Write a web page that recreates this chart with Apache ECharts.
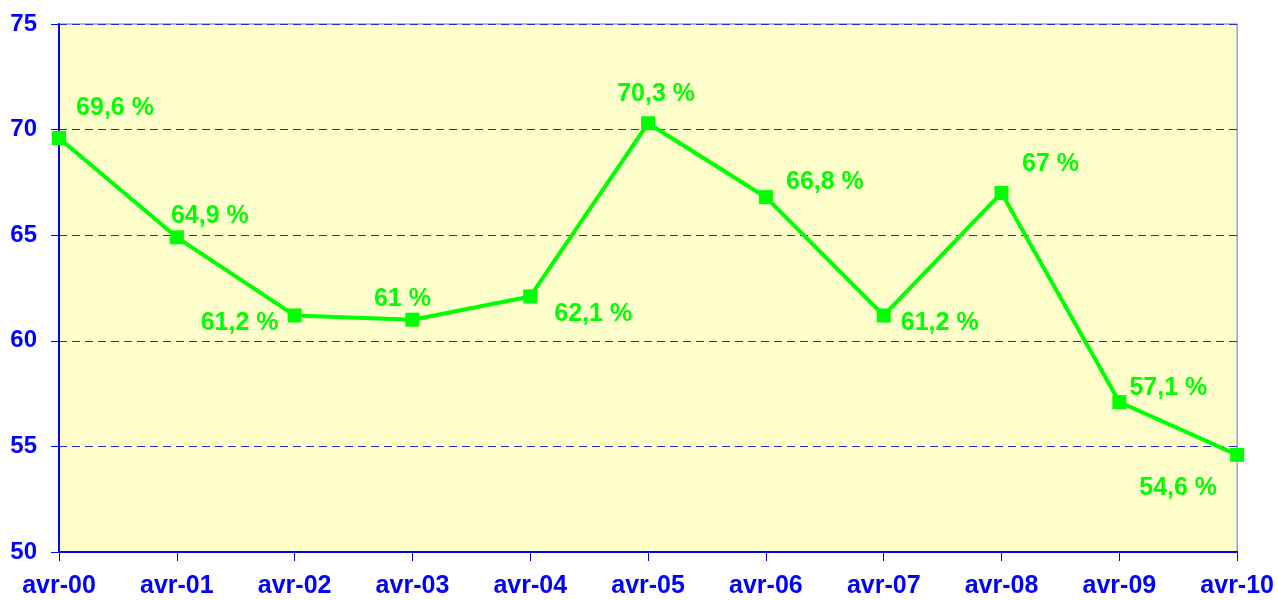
<!DOCTYPE html>
<html>
<head>
<meta charset="utf-8">
<script src="https://cdn.jsdelivr.net/npm/echarts@6/dist/echarts.min.js"></script>
<style>
  html, body { margin: 0; padding: 0; background: #fff; }
  #chart { width: 1277px; height: 600px; }
</style>
</head>
<body>
<div id="chart"></div>
<script>
const categories = ["avr-00", "avr-01", "avr-02", "avr-03", "avr-04", "avr-05", "avr-06", "avr-07", "avr-08", "avr-09", "avr-10"];
const values = [69.6, 64.9, 61.2, 61.0, 62.1, 70.3, 66.8, 61.2, 67.0, 57.1, 54.6];
const labelTexts = ["69,6 %", "64,9 %", "61,2 %", "61 %", "62,1 %", "70,3 %", "66,8 %", "61,2 %", "67 %", "57,1 %", "54,6 %"];
// where each value label sits relative to its point
const labelOffsets = [[56, -30], [33, -21], [-55, 8], [-10, -21], [63, 18], [8, -29], [59, -15], [56, 8], [49, -29], [49, -14], [-59, 33]];

const blue = "#0000ff";
const green = "#00ff00";

const chart = echarts.init(document.getElementById("chart"));

chart.setOption({
  animation: false,
  grid: {
    left: 59,
    right: 39,
    top: 24,
    bottom: 48,
    show: true,
    backgroundColor: "#ffffcc",
    borderColor: "#6666ff",
    borderWidth: 1
  },
  xAxis: {
    type: "category",
    data: categories,
    boundaryGap: false,
    axisLine: { lineStyle: { color: blue, width: 2 } },
    axisTick: { show: true, length: 9, lineStyle: { color: blue, width: 1 } },
    axisLabel: {
      color: blue,
      fontWeight: "bold",
      fontSize: 25,
      fontFamily: "Liberation Sans, Arial",
      margin: 22,
      interval: 0
    },
    splitLine: { show: false }
  },
  yAxis: {
    type: "value",
    min: 50,
    max: 75,
    interval: 5,
    axisLine: { show: true, lineStyle: { color: blue, width: 2 } },
    axisTick: { show: true, length: 8, lineStyle: { color: blue, width: 1 } },
    axisLabel: {
      color: blue,
      fontWeight: "bold",
      fontSize: 24,
      fontFamily: "Liberation Sans, Arial",
      margin: 22
    },
    splitLine: {
      show: true,
      lineStyle: { color: "#2a2ad0", width: 1, type: [8, 5] }
    }
  },
  series: [
    {
      type: "line",
      data: values.map((v, i) => ({
        value: v,
        label: { offset: labelOffsets[i] }
      })),
      symbol: "rect",
      symbolSize: 14,
      lineStyle: { color: green, width: 4 },
      itemStyle: { color: green },
      label: {
        show: true,
        position: "inside",
        color: green,
        fontWeight: "bold",
        fontSize: 25,
        fontFamily: "Liberation Sans, Arial",
        formatter: p => labelTexts[p.dataIndex]
      }
    }
  ]
});
</script>
</body>
</html>
